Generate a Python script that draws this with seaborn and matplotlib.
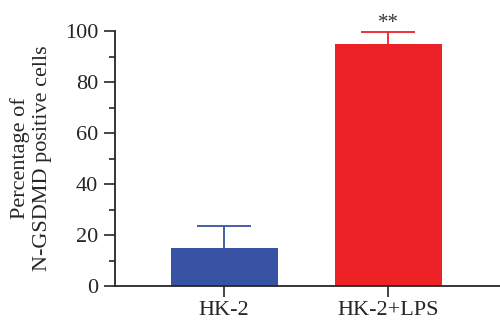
import matplotlib
matplotlib.use("Agg")
import matplotlib.pyplot as plt
import seaborn as sns
import pandas as pd
import numpy as np

groups = ["HK-2", "HK-2+LPS"]
means = [14.8, 94.8]
errors = [8.7, 4.7]
colors = ["#3953A4", "#EC2227"]
sig = ["", "**"]

sns.set_style("ticks")
plt.rcParams['font.family'] = ['Liberation Serif', 'DejaVu Serif']

fig = plt.figure(figsize=(5, 3.28), dpi=100)
ax = fig.add_axes([0.23, 0.128, 0.77, 0.777])

df = pd.DataFrame({"group": groups, "value": means})
sns.barplot(data=df, x="group", y="value", hue="group", palette=colors,
            width=0.65, legend=False, ax=ax, saturation=1, edgecolor="none")

cap = 0.165
for i, (m, e, c) in enumerate(zip(means, errors, colors)):
    ax.vlines(i, m, m + e, color=c, lw=1.3, zorder=3)
    ax.hlines(m + e, i - cap, i + cap, color=c, lw=1.3, zorder=3)
    if sig[i]:
        ax.text(i, m + e - 0.3, sig[i], ha="center", va="bottom", fontsize=15,
                color="#333333")

ax.set_xlim(-0.665, 1.68)
ax.set_ylim(0, 100)
ax.set_yticks([0, 20, 40, 60, 80, 100])
ax.set_yticks(np.arange(10, 100, 20), minor=True)
ax.tick_params(axis="y", which="major", length=7.7, width=1.2, labelsize=16, pad=4.5)
ax.tick_params(axis="y", which="minor", length=4.3, width=1.2)
ax.tick_params(axis="x", length=7.7, width=1.2, labelsize=16, pad=3)
ax.set_xlabel("")
ax.set_ylabel("Percentage of\nN-GSDMD positive cells", fontsize=16, labelpad=9,
              linespacing=1.2)
for s in ["top", "right"]:
    ax.spines[s].set_visible(False)
for s in ["left", "bottom"]:
    ax.spines[s].set_linewidth(1.3)

fig.savefig("out.png", dpi=100)
